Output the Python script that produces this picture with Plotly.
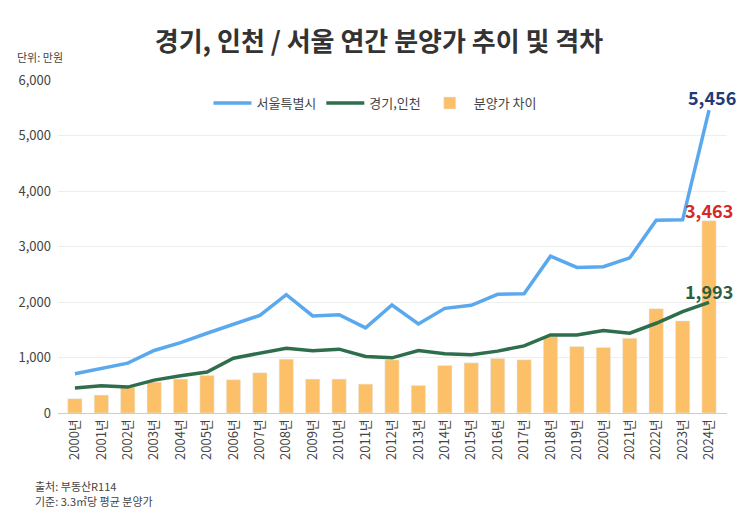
import plotly.graph_objects as go

years = [f"{y}년" for y in range(2000, 2025)]
seoul = [707, 796, 898, 1126, 1269, 1437, 1599, 1760, 2132, 1749, 1772, 1533, 1946,
         1605, 1886, 1940, 2138, 2150, 2826, 2623, 2635, 2796, 3473, 3480, 5456]
gyeonggi = [449, 491, 467, 593, 671, 737, 988, 1084, 1168, 1120, 1150, 1018, 994,
            1126, 1066, 1048, 1115, 1210, 1407, 1407, 1485, 1437, 1617, 1826, 1993]
gap = [257, 323, 461, 557, 611, 677, 599, 725, 970, 611, 611, 521, 958,
       497, 856, 904, 982, 958, 1377, 1198, 1180, 1347, 1880, 1659, 3463]
y_ticks = [0, 1000, 2000, 3000, 4000, 5000, 6000]
y_tick_labels = ["0", "1,000", "2,000", "3,000", "4,000", "5,000", "6,000"]

FONT = "Noto Sans CJK KR"
OFF = 8  # page body margin
W, H = 750 - OFF, 529 - OFF
L, R, T, B = 58 - OFF, 750 - 727, 80 - OFF, 529 - 413
PW, PH = W - L - R, H - T - B

def px(x):
    return (x - OFF - L) / PW

def py(y):
    return (H - B - (y - OFF)) / PH

fig = go.Figure()
fig.add_trace(go.Bar(x=years, y=gap, name="분양가 차이", marker=dict(color="#fbc068"),
                     width=0.54))
fig.add_trace(go.Scatter(x=years, y=seoul, name="서울특별시", mode="lines",
                         line=dict(color="#5aa9ef", width=3.5)))
fig.add_trace(go.Scatter(x=years, y=gyeonggi, name="경기,인천", mode="lines",
                         line=dict(color="#2f6e4c", width=3.5)))

annotations = [
    dict(x=years[-1], y=seoul[-1], text="<b>5,456</b>", showarrow=False, yshift=13,
         xshift=3, font=dict(size=18, color="#1f3a7a", family=FONT)),
    dict(x=years[-1], y=gap[-1], text="<b>3,463</b>", showarrow=False, yshift=11,
         font=dict(size=18, color="#d42a2a", family=FONT)),
    dict(x=years[-1], y=gyeonggi[-1], text="<b>1,993</b>", showarrow=False, yshift=11,
         font=dict(size=18, color="#2f5e3f", family=FONT)),
    dict(xref="paper", yref="paper", x=px(15), y=py(57), xanchor="left", yanchor="middle",
         text="단위: 만원", showarrow=False, font=dict(size=11, color="#444", family=FONT)),
    dict(xref="paper", yref="paper", x=px(33), y=py(486), xanchor="left", yanchor="middle",
         text="출처: 부동산R114", showarrow=False,
         font=dict(size=11, color="#444", family=FONT)),
    dict(xref="paper", yref="paper", x=px(33), y=py(501), xanchor="left", yanchor="middle",
         text="기준: 3.3㎡당 평균 분양가", showarrow=False,
         font=dict(size=11, color="#444", family=FONT)),
]

fig.update_layout(
    width=W, height=H,
    margin=dict(l=L, r=R, t=T, b=B, autoexpand=False),
    paper_bgcolor="white", plot_bgcolor="white",
    font=dict(family=FONT, color="#444"),
    title=dict(text="<b>경기, 인천 / 서울 연간 분양가 추이 및 격차</b>", x=0.5, xanchor="center",
               y=1 - (42 - OFF) / H, yanchor="middle", font=dict(size=26, color="#333", family=FONT)),
    legend=dict(orientation="h", x=px(375), xanchor="center", y=py(103), yanchor="middle",
                font=dict(size=13, color="#444", family=FONT), traceorder="normal",
                bgcolor="rgba(0,0,0,0)", itemwidth=38),
    showlegend=True,
    annotations=annotations,
)
fig.update_xaxes(type="category", categoryorder="array", categoryarray=years,
                 range=[-0.64, 24.68], tickangle=-90, tickfont=dict(size=13, color="#444"),
                 showgrid=False, showline=True, linecolor="#cccccc", linewidth=1, ticks="")
fig.update_yaxes(range=[0, 6000], tickvals=y_ticks, ticktext=y_tick_labels,
                 tickfont=dict(size=13, color="#444"), showgrid=True, gridcolor="#eeeeee",
                 zeroline=False, showline=False, ticklabelstandoff=6)

fig.data[0].legendrank = 3
fig.data[1].legendrank = 1
fig.data[2].legendrank = 2

fig.write_html("out.html")
